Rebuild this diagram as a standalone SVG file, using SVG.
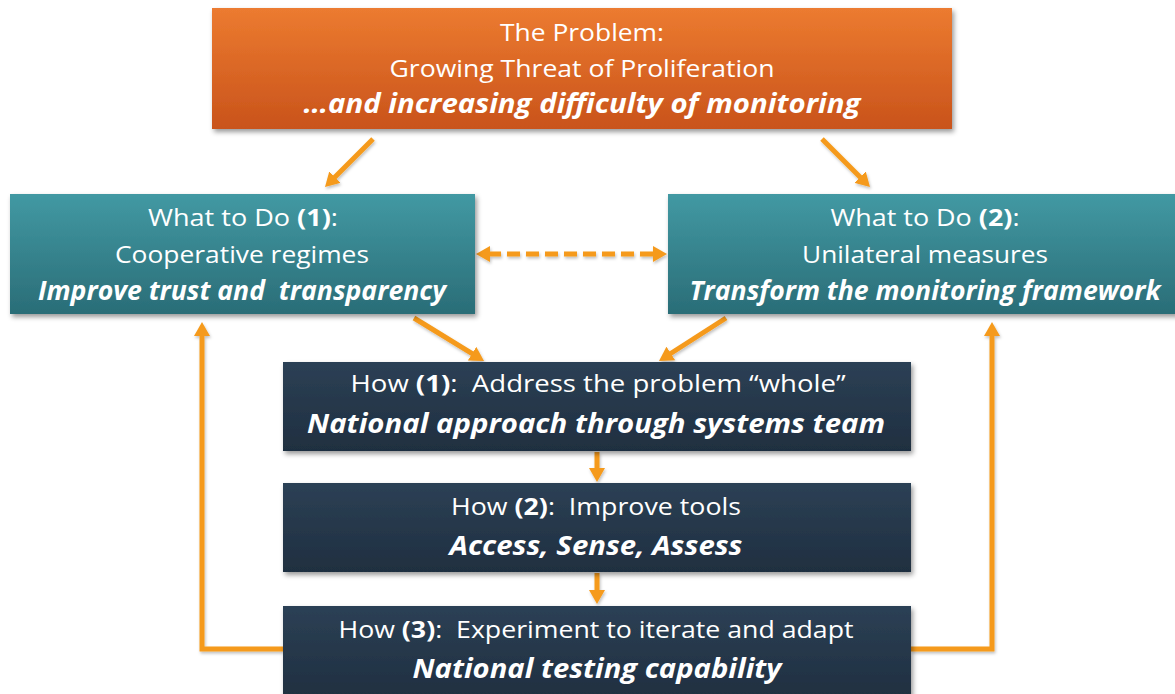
<svg xmlns="http://www.w3.org/2000/svg" width="1175" height="694" viewBox="0 0 1175 694">
<defs>
<linearGradient id="gOrange" x1="0" y1="0" x2="0" y2="1">
<stop offset="0" stop-color="#EC7B30"/>
<stop offset="1" stop-color="#C9531B"/>
</linearGradient>
<linearGradient id="gTeal" x1="0" y1="0" x2="0" y2="1">
<stop offset="0" stop-color="#4299A3"/>
<stop offset="1" stop-color="#2A6D77"/>
</linearGradient>
<linearGradient id="gNavy" x1="0" y1="0" x2="0" y2="1">
<stop offset="0" stop-color="#2C4055"/>
<stop offset="1" stop-color="#1F2F40"/>
</linearGradient>
<filter id="shadow" x="-5%" y="-10%" width="112%" height="130%">
<feDropShadow dx="2" dy="3" stdDeviation="2.5" flood-color="#000" flood-opacity="0.4"/>
</filter>
<filter id="lshadow" x="-20%" y="-20%" width="140%" height="140%">
<feDropShadow dx="1" dy="2" stdDeviation="1.5" flood-color="#000" flood-opacity="0.25"/>
</filter>
<marker id="ah" viewBox="0 0 14 16" markerWidth="14" markerHeight="16" refX="2" refY="8" orient="auto-start-reverse" markerUnits="userSpaceOnUse">
<path d="M0,0 L14,8 L0,16 z" fill="#F59A1B"/>
</marker>
</defs>
<style>
.box{filter:url(#shadow);}
.t{font-family:"Open Sans","Liberation Sans",sans-serif;fill:#FFFFFF;text-anchor:middle;font-size:24px;}
.bi{font-weight:bold;font-style:italic;font-size:26px;}
.b{font-weight:bold;}
.c{fill:none;stroke:#F59A1B;stroke-width:5;}
.ca{marker-end:url(#ah);}
</style>
<rect width="1175" height="694" fill="#FFFFFF"/>

<g id="connectors" filter="url(#lshadow)">
<line class="c ca" x1="373" y1="139" x2="333.5" y2="178.5"/>
<line class="c ca" x1="822" y1="139" x2="861.5" y2="178.5"/>
<line class="c" x1="488" y1="254" x2="655" y2="254" stroke-dasharray="13 6" marker-start="url(#ah)" marker-end="url(#ah)"/>
<line class="c ca" x1="414" y1="318" x2="473.8" y2="354.7"/>
<line class="c ca" x1="726" y1="318" x2="669.1" y2="354.5"/>
<line class="c ca" x1="597" y1="452" x2="597" y2="470"/>
<line class="c ca" x1="597" y1="573" x2="597" y2="592"/>
<path class="c ca" d="M283,649 H202 V334"/>
<path class="c ca" d="M911,649 H992 V334"/>
</g>

<g id="problem">
<rect class="box" x="212" y="8" width="740" height="121" fill="url(#gOrange)"/>
<text class="t" x="582" y="41" textLength="164" lengthAdjust="spacingAndGlyphs">The Problem:</text>
<text class="t" x="582" y="77" textLength="385" lengthAdjust="spacingAndGlyphs">Growing Threat of Proliferation</text>
<text class="t bi" x="582" y="113" textLength="557" lengthAdjust="spacingAndGlyphs">…and increasing difficulty of monitoring</text>
</g>

<g id="what1">
<rect class="box" x="10" y="194" width="465" height="120" fill="url(#gTeal)"/>
<text class="t" x="243" y="226" textLength="190" lengthAdjust="spacingAndGlyphs">What to Do <tspan class="b">(1)</tspan>:</text>
<text class="t" x="242" y="263" textLength="254" lengthAdjust="spacingAndGlyphs">Cooperative regimes</text>
<text class="t bi" x="242" y="300" textLength="408" lengthAdjust="spacingAndGlyphs" xml:space="preserve">Improve trust and  transparency</text>
</g>

<g id="what2">
<rect class="box" x="668" y="194" width="510" height="120" fill="url(#gTeal)"/>
<text class="t" x="925" y="226" textLength="189" lengthAdjust="spacingAndGlyphs">What to Do <tspan class="b">(2)</tspan>:</text>
<text class="t" x="925" y="263" textLength="246" lengthAdjust="spacingAndGlyphs">Unilateral measures</text>
<text class="t bi" x="925" y="300" textLength="471" lengthAdjust="spacingAndGlyphs">Transform the monitoring framework</text>
</g>

<g id="how1">
<rect class="box" x="283" y="362" width="628" height="89" fill="url(#gNavy)"/>
<text class="t" x="598" y="392" textLength="495" lengthAdjust="spacingAndGlyphs" xml:space="preserve">How <tspan class="b">(1)</tspan>:  Address the problem “whole”</text>
<text class="t bi" x="596" y="433" textLength="578" lengthAdjust="spacingAndGlyphs">National approach through systems team</text>
</g>

<g id="how2">
<rect class="box" x="283" y="483" width="628" height="89" fill="url(#gNavy)"/>
<text class="t" x="596" y="515" textLength="290" lengthAdjust="spacingAndGlyphs" xml:space="preserve">How <tspan class="b">(2)</tspan>:  Improve tools</text>
<text class="t bi" x="596" y="555" textLength="293" lengthAdjust="spacingAndGlyphs">Access, Sense, Assess</text>
</g>

<g id="how3">
<rect class="box" x="283" y="606" width="628" height="92" fill="url(#gNavy)"/>
<text class="t" x="596" y="638" textLength="515" lengthAdjust="spacingAndGlyphs" xml:space="preserve">How <tspan class="b">(3)</tspan>:  Experiment to iterate and adapt</text>
<text class="t bi" x="597" y="678" textLength="369" lengthAdjust="spacingAndGlyphs">National testing capability</text>
</g>
</svg>
